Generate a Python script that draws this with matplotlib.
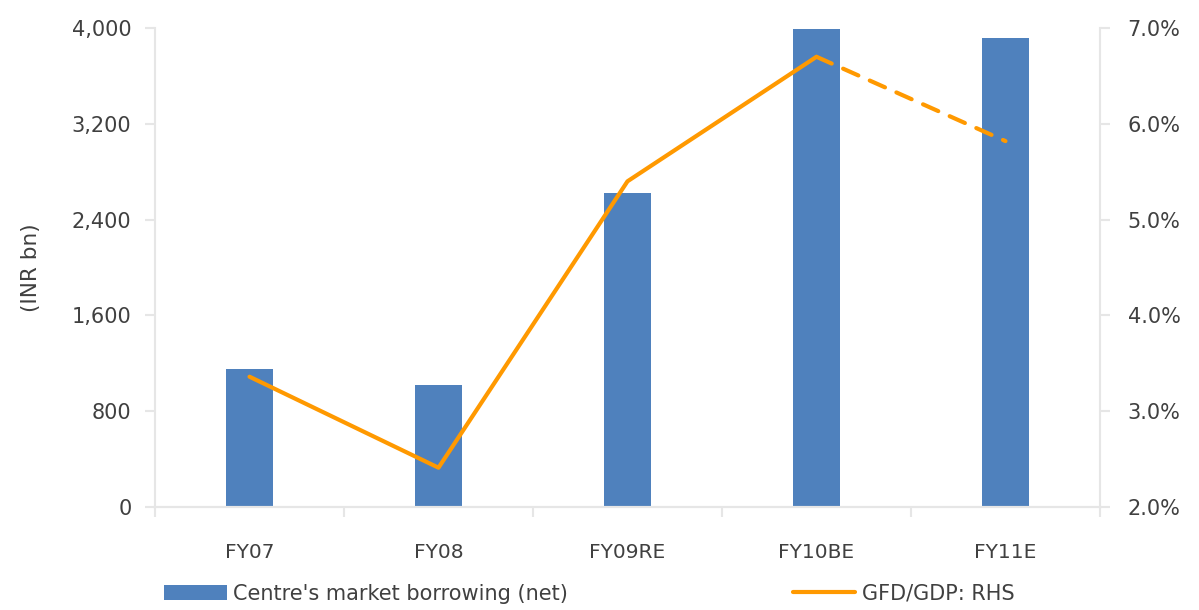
import matplotlib.pyplot as plt
import numpy as np
from matplotlib.ticker import FuncFormatter

# data
years = ["FY07", "FY08", "FY09RE", "FY10BE", "FY11E"]
borrowing = [1150, 1020, 2625, 3990, 3915]          # INR bn
gfd_gdp = [3.36, 2.41, 5.40, 6.70, 5.82]             # % of GDP

bar_color = "#4F81BD"
line_color = "#FF9900"
text_color = "#404040"
axis_color = "#E6E6E6"

fig = plt.figure(figsize=(11.99, 6.10), dpi=100)
ax = fig.add_axes([0.1293, 0.1689, 0.7881, 0.7851])
ax2 = ax.twinx()

x = np.arange(len(years))
ax.bar(x, borrowing, width=0.25, color=bar_color, zorder=2,
       label="Centre's market borrowing (net)")

# solid part for actuals, dashed for the estimate
ax2.plot(x[:4], gfd_gdp[:4], color=line_color, lw=3, solid_capstyle="round",
         solid_joinstyle="round", label="GFD/GDP: RHS", zorder=3)
ax2.plot(x[3:], gfd_gdp[3:], color=line_color, lw=3, ls=(0, (4, 3)),
         dash_capstyle="round", zorder=3)

ax.set_xlim(-0.5, 4.5)
ax.set_ylim(0, 4000)
ax.set_yticks(np.arange(0, 4001, 800))
ax.yaxis.set_major_formatter(FuncFormatter(lambda v, p: f"{v:,.0f}"))
ax2.set_ylim(2.0, 7.0)
ax2.set_yticks(np.arange(2.0, 7.01, 1.0))
ax2.yaxis.set_major_formatter(FuncFormatter(lambda v, p: f"{v:.1f}%"))

ax.set_xticks(x)
ax.set_xticklabels(years)
ax.set_xticks(np.arange(-0.5, 4.6, 1), minor=True)
ax.tick_params(axis="x", which="major", length=0, pad=26, labelsize=14.5,
               labelcolor=text_color)
ax.tick_params(axis="x", which="minor", length=7, color=axis_color, width=1.5)
ax.tick_params(axis="y", length=7, color=axis_color, width=1.5, labelsize=15,
               labelcolor=text_color, pad=10)
ax2.tick_params(axis="y", length=7, color=axis_color, width=1.5, labelsize=15,
                labelcolor=text_color, pad=13)

for a in (ax, ax2):
    for s in a.spines.values():
        s.set_visible(False)
    a.spines["bottom"].set_visible(True)
    a.spines["bottom"].set_color(axis_color)
    a.spines["bottom"].set_linewidth(1.5)
ax.spines["left"].set_visible(True)
ax.spines["left"].set_color(axis_color)
ax.spines["left"].set_linewidth(1.5)
ax2.spines["right"].set_visible(True)
ax2.spines["right"].set_color(axis_color)
ax2.spines["right"].set_linewidth(1.5)

ax.set_ylabel("(INR bn)", fontsize=15.5, color=text_color, labelpad=22)

h1, l1 = ax.get_legend_handles_labels()
h2, l2 = ax2.get_legend_handles_labels()
fig.legend(h1 + h2, l1 + l2, loc="center left", bbox_to_anchor=(0.137, 0.027),
           ncol=2, frameon=False, fontsize=15, labelcolor=text_color,
           columnspacing=10.8, handlelength=3.0, handletextpad=0.3,
           borderpad=0, borderaxespad=0)

fig.savefig("out.png", dpi=100)
